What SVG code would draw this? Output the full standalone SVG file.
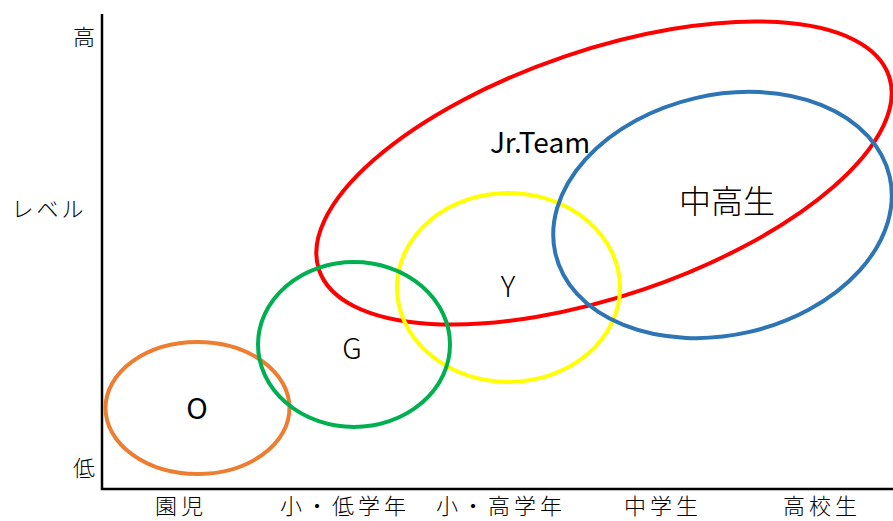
<svg xmlns="http://www.w3.org/2000/svg" width="893" height="521" viewBox="0 0 893 521">
<style>
.ax{stroke:#000;stroke-width:2.5;fill:none}
.el{fill:none;stroke-width:4}
.t{font-family:"Noto Sans CJK JP","Noto Sans",sans-serif;font-weight:300;fill:#000;text-anchor:middle}
.lab{font-size:22px}
.bot{font-size:22px;letter-spacing:4px}
.big{font-size:29px;font-weight:400}
</style>
<rect width="893" height="521" fill="#fff"/>
<g id="axes">
<path class="ax" d="M102,14 V489 H893"/>
<text class="t lab" x="84" y="45">高</text>
<text class="t lab" x="49" y="217" style="letter-spacing:3px">レベル</text>
<text class="t lab" x="84" y="476">低</text>
<text class="t bot" x="181" y="514">園児</text>
<text class="t bot" x="345" y="514">小・低学年</text>
<text class="t bot" x="501" y="514">小・高学年</text>
<text class="t bot" x="663" y="514">中学生</text>
<text class="t bot" x="822" y="514">高校生</text>
</g>
<g id="jrteam">
<ellipse class="el" stroke="#FF0000" cx="604" cy="173" rx="301" ry="123" transform="rotate(-18.8 604 173)"/>
<text class="t big" style="font-size:28px" x="540" y="153">Jr.Team</text>
</g>
<g id="y">
<ellipse class="el" stroke="#FFFF00" cx="508.5" cy="287.5" rx="111.5" ry="94.5"/>
<text class="t big" style="font-weight:300" x="508" y="297">Y</text>
</g>
<g id="chukosei">
<ellipse class="el" stroke="#2E75B6" cx="722.5" cy="215" rx="171.5" ry="120" transform="rotate(-13 722.5 215)"/>
<text class="t" style="font-size:32px" x="727" y="213">中高生</text>
</g>
<g id="o">
<ellipse class="el" stroke="#ED7D31" cx="197.5" cy="408" rx="92" ry="66"/>
<text class="t big" x="197" y="419">O</text>
</g>
<g id="g">
<ellipse class="el" stroke="#00B050" cx="354" cy="344.5" rx="96" ry="82.5"/>
<text class="t big" style="font-weight:300" x="352" y="359">G</text>
</g>
<g id="connectors"/>
</svg>
